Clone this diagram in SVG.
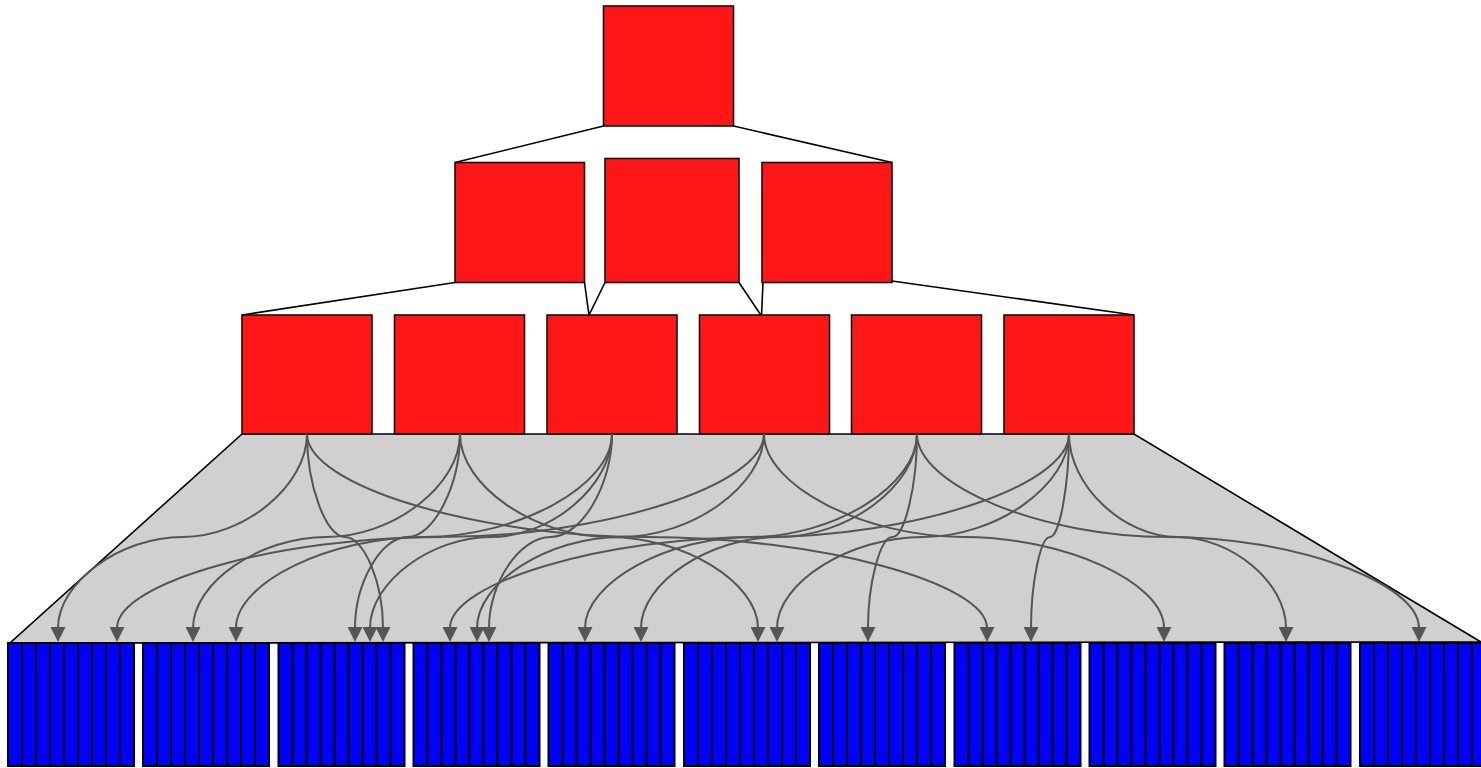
<svg xmlns="http://www.w3.org/2000/svg" xmlns:xlink="http://www.w3.org/1999/xlink" width="1481" height="768" viewBox="0 0 1481 768">
<style>
.red{fill:#FF1717;stroke:#111;stroke-width:1.6}
.tl{fill:none;stroke:#000;stroke-width:1.6}
.trap{fill:#D0D0D0;stroke:#000;stroke-width:1.6}
.bar{fill:#0000FF;stroke:#000;stroke-width:2}
.cn{fill:none;stroke:#555;stroke-width:2;marker-end:url(#ah)}
</style>
<defs>
<marker id="ah" viewBox="0 0 15 15" refX="1" refY="7.5" markerWidth="15" markerHeight="15" orient="auto" markerUnits="userSpaceOnUse">
<path d="M0,0 L15,7.5 L0,15 Z" fill="#555"/>
</marker>
<g id="bars9">
<rect class="bar" x="0" y="0" width="14" height="123"/>
<rect class="bar" x="14" y="0" width="14" height="123"/>
<rect class="bar" x="28" y="0" width="14" height="123"/>
<rect class="bar" x="42" y="0" width="14" height="123"/>
<rect class="bar" x="56" y="0" width="14" height="123"/>
<rect class="bar" x="70" y="0" width="14" height="123"/>
<rect class="bar" x="84" y="0" width="14" height="123"/>
<rect class="bar" x="98" y="0" width="14" height="123"/>
<rect class="bar" x="112" y="0" width="14" height="123"/>
</g>
</defs>
<rect width="1481" height="768" fill="#fff"/>
<g id="tree-lines">
<polyline class="tl" points="455,162.5 603.5,126"/>
<polyline class="tl" points="733.5,126 892,162.5"/>
<polyline class="tl" points="455,282.5 242,315"/>
<polyline class="tl" points="584.5,282.5 589,315 605,282.5"/>
<polyline class="tl" points="739,282.5 761.5,316 763,282.5"/>
<polyline class="tl" points="892,281 1134,315"/>
</g>
<g id="fan"><polygon class="trap" points="242,434 1134,434 1481,642 10,643"/></g>
<g id="root"><rect class="red" x="603.5" y="6" width="130" height="120"/></g>
<g id="l2-1"><rect class="red" x="455" y="162.5" width="129.5" height="120"/></g>
<g id="l2-2"><rect class="red" x="605" y="158.5" width="134" height="124"/></g>
<g id="l2-3"><rect class="red" x="762" y="162.5" width="130" height="120"/></g>
<g id="l3-1"><rect class="red" x="242" y="315" width="130" height="119"/></g>
<g id="l3-2"><rect class="red" x="394.5" y="315" width="130" height="119"/></g>
<g id="l3-3"><rect class="red" x="547" y="315" width="130" height="119"/></g>
<g id="l3-4"><rect class="red" x="699.5" y="315" width="130" height="119"/></g>
<g id="l3-5"><rect class="red" x="851.5" y="315" width="130" height="119"/></g>
<g id="l3-6"><rect class="red" x="1004" y="315" width="130" height="119"/></g>
<g id="connectors">
<path class="cn" d="M307,434 C307,485.5 244.75,537 182.5,537 C120.25,537 58,582.5 58,628"/>
<path class="cn" d="M307,434 C307,485.5 326,537 345,537 C364,537 383,582.5 383,628"/>
<path class="cn" d="M307,434 C307,485.5 477,537 647,537 C817,537 987,582.5 987,628"/>
<path class="cn" d="M460,434 C460,485.5 393.25,537 326.5,537 C259.75,537 193,582.5 193,628"/>
<path class="cn" d="M460,434 C460,485.5 433.75,537 407.5,537 C381.25,537 355,582.5 355,628"/>
<path class="cn" d="M460,434 C460,485.5 534.5,537 609,537 C683.5,537 758,582.5 758,628"/>
<path class="cn" d="M612,434 C612,485.5 518,537 424,537 C330,537 236,582.5 236,628"/>
<path class="cn" d="M612,434 C612,485.5 551.5,537 491,537 C430.5,537 370,582.5 370,628"/>
<path class="cn" d="M612,434 C612,485.5 581.25,537 550.5,537 C519.75,537 489,582.5 489,628"/>
<path class="cn" d="M764,434 C764,485.5 602.25,537 440.5,537 C278.75,537 117,582.5 117,628"/>
<path class="cn" d="M764,434 C764,485.5 692.25,537 620.5,537 C548.75,537 477,582.5 477,628"/>
<path class="cn" d="M764,434 C764,485.5 864,537 964,537 C1064,537 1164,582.5 1164,628"/>
<path class="cn" d="M917,434 C917,485.5 834,537 751,537 C668,537 585,582.5 585,628"/>
<path class="cn" d="M917,434 C917,485.5 848,537 779,537 C710,537 641,582.5 641,628"/>
<path class="cn" d="M917,434 C917,485.5 904.75,537 892.5,537 C880.25,537 868,582.5 868,628"/>
<path class="cn" d="M917,434 C917,485.5 1042.5,537 1168,537 C1293.5,537 1419,582.5 1419,628"/>
<path class="cn" d="M1069,434 C1069,485.5 914.25,537 759.5,537 C604.75,537 450,582.5 450,628"/>
<path class="cn" d="M1069,434 C1069,485.5 996,537 923,537 C850,537 777,582.5 777,628"/>
<path class="cn" d="M1069,434 C1069,485.5 1059.5,537 1050,537 C1040.5,537 1031,582.5 1031,628"/>
<path class="cn" d="M1069,434 C1069,485.5 1123.25,537 1177.5,537 C1231.75,537 1286,582.5 1286,628"/>
</g>
<g id="block-1"><use xlink:href="#bars9" href="#bars9" x="8" y="643"/></g>
<g id="block-2"><use xlink:href="#bars9" href="#bars9" x="143" y="643"/></g>
<g id="block-3"><use xlink:href="#bars9" href="#bars9" x="278.5" y="643"/></g>
<g id="block-4"><use xlink:href="#bars9" href="#bars9" x="413.5" y="643"/></g>
<g id="block-5"><use xlink:href="#bars9" href="#bars9" x="548.5" y="643"/></g>
<g id="block-6"><use xlink:href="#bars9" href="#bars9" x="684" y="643"/></g>
<g id="block-7"><use xlink:href="#bars9" href="#bars9" x="819" y="643"/></g>
<g id="block-8"><use xlink:href="#bars9" href="#bars9" x="954.5" y="643"/></g>
<g id="block-9"><use xlink:href="#bars9" href="#bars9" x="1089.5" y="643"/></g>
<g id="block-10"><use xlink:href="#bars9" href="#bars9" x="1224.5" y="643"/></g>
<g id="block-11"><use xlink:href="#bars9" href="#bars9" x="1360" y="643"/></g>
</svg>
